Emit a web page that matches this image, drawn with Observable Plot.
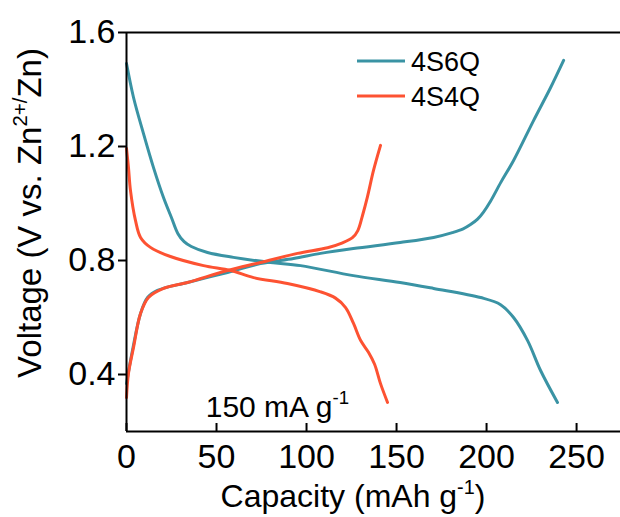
<!DOCTYPE html>
<html><head><meta charset="utf-8">
<script src="https://cdn.jsdelivr.net/npm/d3@7"></script>
<script src="https://cdn.jsdelivr.net/npm/@observablehq/plot@0.6"></script>
<style>
body{margin:0;background:#fff}
#chart{position:relative;width:620px;height:517px;overflow:hidden}
</style>
</head><body><div id="chart"></div>
<script>
// ---- data ----
const series = ["4S6Q", "4S4Q"];
const seriesColors = ["#3a93a4", "#fd5232"];

const s6qDisCap = [0, 3.9, 9.4, 15, 20.6, 25, 28.5, 32, 36, 45, 59.4, 80, 96.7, 126, 152, 170.6, 196.7, 207.8, 215, 222.8, 230, 239.4];
const s6qDisV   = [1.491, 1.372, 1.246, 1.126, 1.020, 0.950, 0.895, 0.866, 0.849, 0.828, 0.811, 0.793, 0.782, 0.747, 0.723, 0.702, 0.670, 0.645, 0.600, 0.519, 0.414, 0.302];
const s6qChgCap = [0, 3.3, 7.8, 11.7, 17.2, 33.9, 56.1, 74.4, 92.8, 107.8, 126, 152, 170.6, 181, 187, 191.1, 195, 198.3, 202.2, 208, 215, 226.1, 235.6, 242.8];
const s6qChgV   = [0.368, 0.484, 0.614, 0.670, 0.695, 0.723, 0.758, 0.789, 0.807, 0.825, 0.842, 0.863, 0.881, 0.898, 0.911, 0.926, 0.945, 0.970, 1.008, 1.075, 1.151, 1.291, 1.407, 1.502];

const s4qDisCap = [0, 1.1, 2.2, 5, 7.8, 13.3, 24.4, 42.8, 57.8, 70.6, 89.4, 107.8, 116.1, 121.7, 126.1, 130, 134.4, 137.8, 141.1, 145];
const s4qDisV   = [1.193, 1.126, 1.046, 0.940, 0.881, 0.846, 0.814, 0.782, 0.765, 0.740, 0.719, 0.690, 0.668, 0.635, 0.579, 0.520, 0.478, 0.436, 0.368, 0.302];
const s4qChgCap = [0, 1.1, 3.9, 7.8, 12.2, 20.6, 33.9, 56.1, 74.4, 95, 111.7, 120, 125.5, 128.5, 131.1, 133.9, 137.2, 141.1];
const s4qChgV   = [0.319, 0.404, 0.495, 0.614, 0.670, 0.702, 0.723, 0.765, 0.793, 0.825, 0.845, 0.862, 0.880, 0.905, 0.958, 1.025, 1.116, 1.204];

const xTicks = [0, 50, 100, 150, 200, 250];
const yTicks = [0.4, 0.8, 1.2, 1.6];
const xDomain = [0, 274.4];
const yDomain = [0.2, 1.6];

const annotation = {cap: 44, v: 0.285, text: "150 mA g-1"};

// ---- table ----
function toRows(name, branch, caps, vs) {
  return caps.map((c, i) => ({series: name, curve: name + " " + branch, cap: c, v: vs[i]}));
}
const rows = [
  ...toRows(series[0], "discharge", s6qDisCap, s6qDisV),
  ...toRows(series[0], "charge", s6qChgCap, s6qChgV),
  ...toRows(series[1], "discharge", s4qDisCap, s4qDisV),
  ...toRows(series[1], "charge", s4qChgCap, s4qChgV)
];

const FONT = "'Liberation Sans', Arial, Helvetica, sans-serif";

const chart = Plot.plot({
  width: 620, height: 517,
  marginTop: 32, marginBottom: 86, marginLeft: 126, marginRight: 0,
  style: {fontFamily: FONT, background: "white", color: "black", overflow: "visible"},
  x: {domain: xDomain},
  y: {domain: yDomain},
  color: {domain: series, range: seriesColors},
  marks: [
    Plot.line(rows, {x: "cap", y: "v", z: "curve", stroke: "series", strokeWidth: 3, curve: "catmull-rom"}),
    Plot.axisY(yTicks, {tickSize: 8, tickPadding: 3, fontSize: 34, strokeWidth: 2, label: null}),
    Plot.axisX(xTicks, {tickSize: 0, tickPadding: 12, fontSize: 34, label: null}),
    Plot.axisX(xTicks, {tickSize: -8, text: null, strokeWidth: 2, label: null}),
    Plot.ruleX([xDomain[0]], {strokeWidth: 2}),
    Plot.ruleY(yDomain, {strokeWidth: 2}),
    Plot.text([annotation], {x: "cap", y: "v", text: "text", textAnchor: "start", fontSize: 30, fill: "black"})
  ]
});
document.getElementById("chart").appendChild(chart);

// ---- rich text helpers (superscripts) ----
const svg = d3.select(chart);
function fillRich(sel, parts, fs) {
  sel.text(null);
  const sh = fs * 0.42;
  let raised = false;
  parts.forEach(([t, sup]) => {
    const ts = sel.append("tspan").text(t);
    if (sup && !raised) { ts.attr("font-size", fs * 0.62).attr("dy", -sh); raised = true; }
    else if (!sup && raised) { ts.attr("dy", sh); raised = false; }
    else if (sup) ts.attr("font-size", fs * 0.62);
  });
}
function richText(x, y, parts, fs, opts = {}) {
  const t = svg.append("text")
    .attr("font-family", FONT).attr("font-size", fs).attr("fill", "black")
    .attr("text-anchor", opts.anchor || "start");
  if (opts.rotate) t.attr("transform", `translate(${x},${y}) rotate(${opts.rotate})`);
  else t.attr("x", x).attr("y", y);
  fillRich(t, parts, fs);
  return t;
}

// annotation superscript
svg.selectAll("text").filter(function() { return this.textContent === annotation.text; })
  .each(function() {
    const s = d3.select(this);
    s.attr("dy", null);
    fillRich(s, [["150 mA g"], ["-1", true]], 30);
  });

// axis titles
richText(353, 507, [["Capacity (mAh g"], ["-1", true], [")"]], 32, {anchor: "middle"});
richText(41, 213, [["Voltage (V vs. Zn"], ["2+/", true], ["Zn)"]], 33, {anchor: "middle", rotate: -90});

// legend
const legY = [61, 96];
series.forEach((s, i) => {
  svg.append("line").attr("x1", 357).attr("x2", 405).attr("y1", legY[i]).attr("y2", legY[i])
    .attr("stroke", seriesColors[i]).attr("stroke-width", 3);
  svg.append("text").attr("x", 411).attr("y", legY[i]).attr("dy", "0.36em")
    .attr("text-anchor", "start")
    .attr("font-family", FONT).attr("font-size", 27).attr("fill", "black").text(s);
});
</script>
</body></html>
